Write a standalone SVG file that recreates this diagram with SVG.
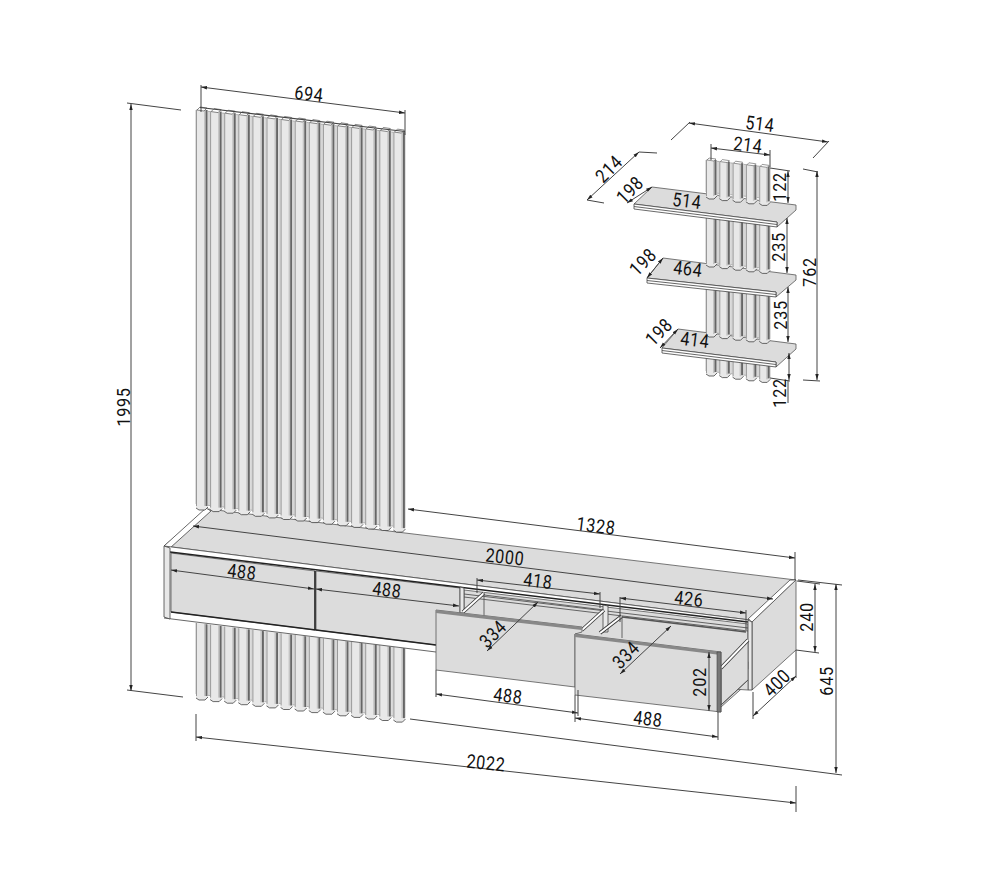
<svg xmlns="http://www.w3.org/2000/svg" width="1000" height="870" viewBox="0 0 1000 870">
<style>
text{font-family:"Roboto","Liberation Sans",sans-serif;font-size:19px;letter-spacing:.8px;fill:#111;text-anchor:middle;dominant-baseline:central}
.f{fill:#dcdcdc;stroke:#555;stroke-width:.8}
.w{fill:#fff;stroke:#444;stroke-width:.8}
.d{stroke:#222;stroke-width:1.5;fill:none}
.l{stroke:#555;stroke-width:.9;fill:none}
.r0{stroke:#333;stroke-width:3.6;fill:none}
.r1{stroke:#fff;stroke-width:2;fill:none}
.dim line{stroke:#444;stroke-width:1;fill:none}
.a{marker-start:url(#ar);marker-end:url(#ar)}
.back{fill:#d6d6d6;stroke:#777;stroke-width:.5}
</style>
<defs>
<marker id="ar" markerWidth="7" markerHeight="5" refX="6" refY="2.5" orient="auto-start-reverse" markerUnits="userSpaceOnUse"><path d="M6 2.5L0 .8V4.2Z" fill="#222"/></marker>
<g id="bars">
<rect x="0" y="0" width="1" height="396" fill="#999"/>
<rect x="8" y="0" width="1.6" height="396" fill="#c4c4c4"/>
<rect x="9.6" y="0" width="1.9" height="396" fill="#666"/>
</g>
<g id="barsl">
<rect x="0" y="0" width="1" height="82" fill="#999"/>
<rect x="8" y="0" width="1.6" height="82" fill="#c4c4c4"/>
<rect x="9.6" y="0" width="1.9" height="82" fill="#666"/>
</g>
<g id="su"><path d="M0 0H12V397L9 400H3L0 398Z" fill="#e8e8e8"/><use href="#bars"/><path d="M0 398L3 400H9L12 397" fill="none" stroke="#444" stroke-width=".8"/><path d="M1 0L4 -3L11 -2L8 1Z" fill="#fff" stroke="#555" stroke-width=".7"/></g>
<g id="sl"><path d="M0 0H12V83L9 86H3L0 84Z" fill="#e8e8e8"/><use href="#barsl"/><path d="M0 84L3 86H9L12 83" fill="none" stroke="#444" stroke-width=".8"/></g>
<g id="w38"><path d="M0 0H11V36L8 39H3L0 37Z" fill="#e8e8e8"/><rect width="1" height="36" fill="#999"/><rect x="7" width="1.5" height="36" fill="#c4c4c4"/><rect x="8.5" width="2" height="35" fill="#666"/><path d="M0 37L3 39H8L11 36" fill="none" stroke="#444" stroke-width=".8"/><path d="M1 0L3 -2L10 -1L8 1Z" fill="#fff" stroke="#555" stroke-width=".6"/></g>
<g id="w66"><path d="M0 0H11V64L8 67H3L0 65Z" fill="#e8e8e8"/><rect width="1" height="64" fill="#999"/><rect x="7" width="1.5" height="64" fill="#c4c4c4"/><rect x="8.5" width="2" height="63" fill="#666"/><path d="M0 65L3 67H8L11 64" fill="none" stroke="#444" stroke-width=".8"/></g>
<g id="w36"><path d="M0 0H11V34L8 37H3L0 35Z" fill="#e8e8e8"/><rect width="1" height="34" fill="#999"/><rect x="7" width="1.5" height="34" fill="#c4c4c4"/><rect x="8.5" width="2" height="33" fill="#666"/><path d="M0 35L3 37H8L11 34" fill="none" stroke="#444" stroke-width=".8"/></g>
</defs>
<rect width="1000" height="870" fill="#fff"/>

<g id="lower-slats">
<polygon class="back" points="196,614 405,637.5 405,717.5 196,694"/>
<use href="#sl" x="196" y="614"/><use href="#sl" x="210.1" y="615.6"/><use href="#sl" x="224.2" y="617.2"/><use href="#sl" x="238.3" y="618.7"/><use href="#sl" x="252.4" y="620.3"/><use href="#sl" x="266.5" y="621.9"/><use href="#sl" x="280.6" y="623.5"/><use href="#sl" x="294.7" y="625"/><use href="#sl" x="308.8" y="626.6"/><use href="#sl" x="322.9" y="628.2"/><use href="#sl" x="337" y="629.8"/><use href="#sl" x="351.1" y="631.4"/><use href="#sl" x="365.2" y="633"/><use href="#sl" x="379.3" y="634.5"/><use href="#sl" x="393.4" y="636.1"/>
</g>

<g id="cabinet">
<polygon class="f" points="164,546 208,509 405,533 796,580 750,620"/>
<polygon class="w" points="164,546 206,508 211,511 170,548"/>
<polygon class="w" points="748,619 790,580 796,580 752,622"/>
<polygon points="164,546 750,620 750,680 436,652 164,619" fill="#fff"/>
<polygon class="f" points="171,553 315,571 315,630 171,612"/>
<polygon class="f" points="316,571 460,588 460,648 316,630"/>
<polygon class="f" points="464,590 748,624 748,683 721,707 464,655"/>
<line class="l" x1="164" y1="546" x2="750" y2="620"/>
<line class="d" x1="170" y1="552" x2="748" y2="622"/>
<line class="l" x1="464" y1="594" x2="748" y2="628"/>
<line class="l" x1="464" y1="597" x2="748" y2="631"/>
<line class="d" x1="171" y1="612" x2="436" y2="645"/>
<line class="l" x1="164" y1="618" x2="436" y2="652"/>
<line class="d" x1="315" y1="571" x2="315" y2="630"/>
<polygon class="w" style="fill:#e8e8e8" points="164,546 170,548 170,619 164,617"/>
<polygon class="w" style="fill:#e8e8e8" points="460,587 464,588 464,613 460,613"/>
<polygon class="w" style="fill:#e8e8e8" points="603,605 608,606 608,632 603,632"/>
<polygon class="f" points="752,622 796,580 796,650 752,690"/>
<polygon class="w" style="fill:#e8e8e8" points="748,620 752,622 752,690 748,690"/>
<polygon class="f" points="732,689 748,680 748,690"/>
<rect x="745" y="662" width="3" height="7" fill="#fff" stroke="#555" stroke-width=".6"/>
</g>

<g id="drawer-1">
<line class="r0" x1="463" y1="612" x2="484" y2="593"/><line class="r1" x1="463" y1="612" x2="484" y2="593"/>
<line class="r0" x1="582" y1="630" x2="604" y2="610"/><line class="r1" x1="582" y1="630" x2="604" y2="610"/>
<line class="l" x1="484" y1="593" x2="484" y2="616"/>
<line class="l" x1="484" y1="595" x2="604" y2="610"/>
<polygon class="f" points="436,610 582,627 582,632 575,634 575,687 436,670"/>
<line stroke="#888" stroke-width="3" x1="436" y1="611.5" x2="582" y2="628.5"/>
</g>

<g id="drawer-2">
<line class="r0" x1="600" y1="633" x2="622" y2="616"/><line class="r1" x1="600" y1="633" x2="622" y2="616"/>
<line class="l" x1="622" y1="616" x2="622" y2="638"/>
<line class="d" style="stroke:#555" x1="622" y1="617" x2="746" y2="632"/>
<polygon class="f" points="721,668 748,640 748,680 721,705"/>
<line class="r0" x1="721" y1="668" x2="748" y2="640"/><line class="r1" x1="721" y1="668" x2="748" y2="640"/>
<line class="l" x1="721" y1="705" x2="748" y2="680"/>
<polygon class="f" points="575,634 721,652 721,712 575,695"/>
<line stroke="#888" stroke-width="3" x1="575" y1="635.5" x2="721" y2="653.5"/>
<polygon points="717,652 721,652 721,712 717,712" fill="#777" stroke="#444" stroke-width=".6"/>
</g>

<g id="upper-slats">
<polygon class="back" points="196,110 405,133.5 405,527.5 196,504"/>
<use href="#su" x="196" y="110"/><use href="#su" x="210.1" y="111.6"/><use href="#su" x="224.2" y="113.2"/><use href="#su" x="238.3" y="114.7"/><use href="#su" x="252.4" y="116.3"/><use href="#su" x="266.5" y="117.9"/><use href="#su" x="280.6" y="119.5"/><use href="#su" x="294.7" y="121"/><use href="#su" x="308.8" y="122.6"/><use href="#su" x="322.9" y="124.2"/><use href="#su" x="337" y="125.8"/><use href="#su" x="351.1" y="127.4"/><use href="#su" x="365.2" y="129"/><use href="#su" x="379.3" y="130.5"/><use href="#su" x="393.4" y="132.1"/>
<line x1="200" y1="107.5" x2="405" y2="131.5" stroke="#444" stroke-width="1.2"/>
</g>

<g id="wall-shelves">
<g id="wall-slats-bottom"><polygon class="back" points="706,339 770,346.4 770,378 706,371"/><use href="#w36" x="706" y="339"/><use href="#w36" x="719.3" y="340.6"/><use href="#w36" x="732.6" y="342.2"/><use href="#w36" x="745.9" y="343.8"/><use href="#w36" x="759.2" y="345.4"/></g>
<g id="shelf-3"><polygon class="f" points="662,348 776,362 776,367 796,349 796,344 678,329"/><polygon class="w" points="662,348 776,362 776,367 662,353"/><line class="l" x1="662" y1="350.5" x2="776" y2="364.5"/></g>
<g id="wall-slats-c"><polygon class="back" points="706,270 770,277.4 770,339 706,332"/><use href="#w66" x="706" y="270"/><use href="#w66" x="719.3" y="271.6"/><use href="#w66" x="732.6" y="273.2"/><use href="#w66" x="745.9" y="274.8"/><use href="#w66" x="759.2" y="276.4"/></g>
<g id="shelf-2"><polygon class="f" points="647,278 776,292 776,297 796,280 796,275 663,258"/><polygon class="w" points="647,278 776,292 776,297 647,283"/><line class="l" x1="647" y1="280.5" x2="776" y2="294.5"/></g>
<g id="wall-slats-b"><polygon class="back" points="706,200 770,207.4 770,269 706,262"/><use href="#w66" x="706" y="200"/><use href="#w66" x="719.3" y="201.6"/><use href="#w66" x="732.6" y="203.2"/><use href="#w66" x="745.9" y="204.8"/><use href="#w66" x="759.2" y="206.4"/></g>
<g id="shelf-1"><polygon class="f" points="634,204 777,222 777,227 796,210 796,205 652,187"/><polygon class="w" points="634,204 777,222 777,227 634,209"/><line class="l" x1="634" y1="206.5" x2="777" y2="224.5"/></g>
<g id="wall-slats-a"><polygon class="back" points="706,160 770,167.4 770,199 706,192"/><use href="#w38" x="706" y="160"/><use href="#w38" x="719.3" y="161.6"/><use href="#w38" x="732.6" y="163.2"/><use href="#w38" x="745.9" y="164.8"/><use href="#w38" x="759.2" y="166.4"/></g>
</g>

<g id="connectors" class="dim">
<line x1="201" y1="85" x2="201" y2="112"/><line x1="405" y1="110" x2="405" y2="135"/><line class="a" x1="201" y1="87" x2="405" y2="113"/>
<line x1="127" y1="103" x2="181" y2="110"/><line x1="127" y1="690" x2="183" y2="697"/><line class="a" x1="131" y1="104" x2="131" y2="691"/>
<line x1="196" y1="714" x2="196" y2="741"/><line x1="796" y1="786" x2="796" y2="812"/><line class="a" x1="196" y1="737" x2="796" y2="803"/>
<line x1="410" y1="719" x2="842" y2="775"/><line x1="798" y1="580" x2="842" y2="585"/><line class="a" x1="836" y1="584" x2="836" y2="773"/>
<line x1="797" y1="581" x2="820" y2="584"/><line x1="796" y1="650" x2="819" y2="653"/><line class="a" x1="815" y1="584" x2="815" y2="652"/>
<line x1="753" y1="692" x2="753" y2="719"/><line x1="796" y1="650" x2="796" y2="678"/><line class="a" x1="753" y1="716" x2="796" y2="676"/>
<line x1="795" y1="552" x2="795" y2="580"/><line class="a" x1="408" y1="509" x2="795" y2="558"/>
<line class="a" x1="193" y1="526" x2="773" y2="599"/>
<line class="a" x1="171" y1="570" x2="314" y2="589"/><line class="a" x1="316" y1="589" x2="459" y2="606"/>
<line x1="477" y1="578" x2="477" y2="593"/><line x1="600" y1="592" x2="600" y2="608"/><line class="a" x1="477" y1="580" x2="600" y2="594"/>
<line x1="620" y1="597" x2="620" y2="622"/><line x1="746" y1="610" x2="746" y2="630"/><line class="a" x1="620" y1="598" x2="746" y2="613"/>
<line class="a" x1="487" y1="651" x2="538" y2="602"/><line class="a" x1="620" y1="674" x2="671" y2="626"/>
<line x1="436" y1="670" x2="436" y2="697"/><line x1="578" y1="690" x2="578" y2="716"/><line class="a" x1="436" y1="694" x2="578" y2="713"/>
<line x1="575" y1="695" x2="575" y2="722"/><line x1="718" y1="712" x2="718" y2="740"/><line class="a" x1="575" y1="718" x2="718" y2="737"/>
<line class="a" x1="709" y1="652" x2="709" y2="711"/>
<line x1="671" y1="140" x2="690" y2="122"/><line x1="813" y1="158" x2="829" y2="141"/><line class="a" x1="689" y1="123" x2="828" y2="142"/>
<line x1="711" y1="144" x2="711" y2="160"/><line x1="770" y1="150" x2="770" y2="167"/><line class="a" x1="711" y1="148" x2="770" y2="155"/>
<line x1="587" y1="200" x2="604" y2="203"/><line x1="639" y1="152" x2="657" y2="153"/><line class="a" x1="587" y1="200" x2="639" y2="152"/>
<line class="a" x1="627" y1="203" x2="652" y2="187"/><line class="a" x1="647" y1="278" x2="663" y2="258"/><line class="a" x1="660" y1="348" x2="678" y2="329"/>
<line x1="770" y1="168" x2="790" y2="171"/><line class="a" x1="788" y1="171" x2="788" y2="203"/>
<line class="a" x1="787" y1="218" x2="787" y2="273"/><line class="a" x1="788" y1="287" x2="788" y2="342"/>
<line x1="770" y1="378" x2="790" y2="381"/><line class="a" x1="789" y1="353" x2="789" y2="380"/><line x1="788" y1="380" x2="788" y2="403"/>
<line x1="803" y1="169" x2="818" y2="172"/><line x1="803" y1="380" x2="820" y2="381"/><line class="a" x1="817" y1="171" x2="817" y2="380"/>
</g>

<g id="labels">
<text transform="translate(309 94) rotate(7) scale(.85 1)">694</text>
<text transform="translate(124 407) rotate(-90) scale(.85 1)">1995</text>
<text transform="translate(486 763) rotate(6) scale(.85 1)">2022</text>
<text transform="translate(827 681) rotate(-90) scale(.85 1)">645</text>
<text transform="translate(807 617) rotate(-90) scale(.85 1)">240</text>
<text transform="translate(777 683) rotate(-45) scale(.85 1)">400</text>
<text transform="translate(596 526) rotate(7) scale(.85 1)">1328</text>
<text transform="translate(505 557) rotate(6) scale(.85 1)">2000</text>
<text transform="translate(242 572) rotate(7) scale(.85 1)">488</text>
<text transform="translate(387 590) rotate(7) scale(.85 1)">488</text>
<text transform="translate(538 581) rotate(7) scale(.85 1)">418</text>
<text transform="translate(689 599) rotate(7) scale(.85 1)">426</text>
<text transform="translate(493 634) rotate(-45) scale(.85 1)">334</text>
<text transform="translate(626 655) rotate(-45) scale(.85 1)">334</text>
<text transform="translate(508 696) rotate(7) scale(.85 1)">488</text>
<text transform="translate(648 719) rotate(7) scale(.85 1)">488</text>
<text transform="translate(700 682) rotate(-90) scale(.85 1)">202</text>
<text transform="translate(760 124) rotate(7) scale(.85 1)">514</text>
<text transform="translate(748 145) rotate(7) scale(.85 1)">214</text>
<text transform="translate(609 169) rotate(-45) scale(.85 1)">214</text>
<text transform="translate(630 190) rotate(-45) scale(.85 1)">198</text>
<text transform="translate(687 201) rotate(7) scale(.85 1)">514</text>
<text transform="translate(780 187) rotate(-90) scale(.85 1)">122</text>
<text transform="translate(779 247) rotate(-90) scale(.85 1)">235</text>
<text transform="translate(643 262) rotate(-45) scale(.85 1)">198</text>
<text transform="translate(688 269) rotate(7) scale(.85 1)">464</text>
<text transform="translate(781 315) rotate(-90) scale(.85 1)">235</text>
<text transform="translate(659 332) rotate(-45) scale(.85 1)">198</text>
<text transform="translate(695 340) rotate(7) scale(.85 1)">414</text>
<text transform="translate(780 393) rotate(-90) scale(.85 1)">122</text>
<text transform="translate(810 272) rotate(-90) scale(.85 1)">762</text>
</g>
</svg>
